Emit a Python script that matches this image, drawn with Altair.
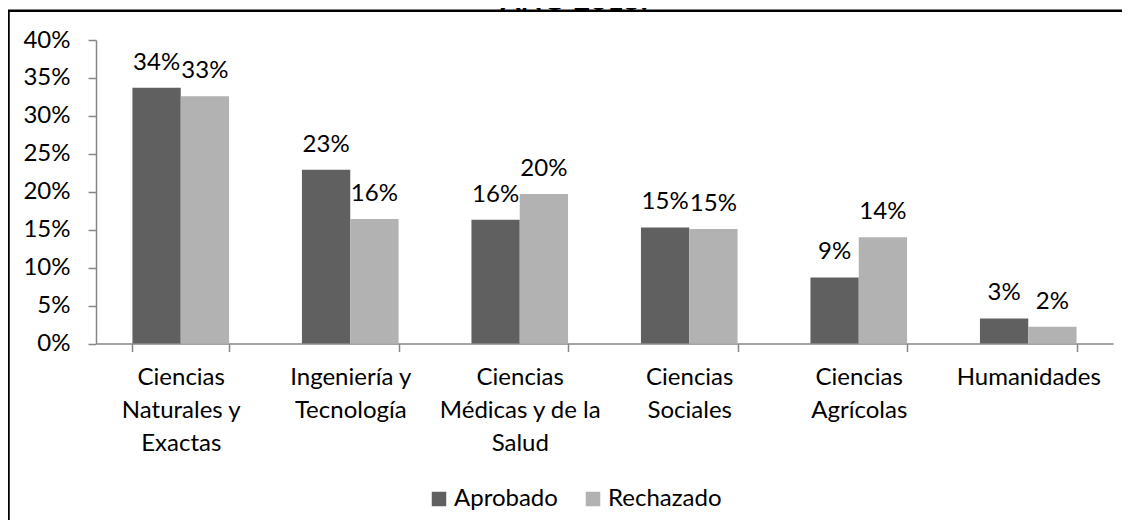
import altair as alt
import pandas as pd

# ---- data ----
categorias = [
    "Ciencias|Naturales y|Exactas",
    "Ingeniería y|Tecnología",
    "Ciencias|Médicas y de la|Salud",
    "Ciencias|Sociales",
    "Ciencias|Agrícolas",
    "Humanidades",
]
aprobado = [0.337, 0.229, 0.163, 0.153, 0.087, 0.033]
rechazado = [0.326, 0.164, 0.197, 0.151, 0.140, 0.022]
series = ["Aprobado", "Rechazado"]
colores = ["#606060", "#b2b2b2"]
y_ticks = [0.0, 0.05, 0.10, 0.15, 0.20, 0.25, 0.30, 0.35, 0.40]
titulo = "AÑO 2015."

rows = []
for c, a, r in zip(categorias, aprobado, rechazado):
    rows.append({"categoria": c, "serie": series[0], "valor": a})
    rows.append({"categoria": c, "serie": series[1], "valor": r})
df = pd.DataFrame(rows)
dummy = pd.DataFrame({"k": [0]})

FONT = "Lato"
FS = 24
W, H = 1017, 303.5
AXC = "#868686"

base = alt.Chart(df).encode(
    x=alt.X(
        "categoria:N",
        sort=categorias,
        scale=alt.Scale(paddingInner=0.43, paddingOuter=0.215),
        axis=alt.Axis(
            title=None,
            labelExpr="split(datum.label, '|')",
            labelAngle=0,
            labelAlign="center",
            labelBaseline="top",
            tickBand="extent",
            tickSize=8,
            labelPadding=14,
            labelLineHeight=33,
            labelLimit=0,
            labelFont=FONT,
            labelFontSize=FS,
            labelColor="black",
            domainColor=AXC,
            tickColor=AXC,
            domainWidth=1.5,
            tickWidth=1.5,
        ),
    ),
    xOffset=alt.XOffset(
        "serie:N", sort=series, scale=alt.Scale(paddingInner=0, paddingOuter=0)
    ),
    y=alt.Y(
        "valor:Q",
        scale=alt.Scale(domain=[0, 0.4], nice=False),
        axis=alt.Axis(
            title=None,
            values=y_ticks,
            format=".0%",
            grid=False,
            tickSize=8,
            labelPadding=18,
            labelFont=FONT,
            labelFontSize=FS,
            labelColor="black",
            domainColor=AXC,
            tickColor=AXC,
            domainWidth=1.5,
            tickWidth=1.5,
        ),
    ),
)

bars = base.mark_bar().encode(
    color=alt.Color(
        "serie:N",
        sort=series,
        scale=alt.Scale(domain=series, range=colores),
        legend=alt.Legend(
            title=None,
            orient="none",
            legendX=331,
            legendY=447,
            direction="horizontal",
            symbolType="square",
            symbolSize=210,
            symbolStrokeWidth=0,
            labelFont=FONT,
            labelFontSize=FS,
            labelColor="black",
            columnPadding=23,
            labelOffset=3,
            padding=0,
        ),
    )
)

labels = base.mark_text(
    baseline="alphabetic", dy=-18, font=FONT, fontSize=FS, color="black"
).encode(text=alt.Text("valor:Q", format=".0%"))

frame = alt.Chart(dummy).mark_rect(
    fill=None, fillOpacity=0, stroke="black", strokeWidth=2.5
).encode(
    x=alt.value(-87.5), x2=alt.value(1400), y=alt.value(-29.3), y2=alt.value(700)
)
title_mark = alt.Chart(dummy).mark_text(
    text=titulo, font=FONT, fontSize=29, fontWeight="bold", baseline="alphabetic",
    color="black", align="center"
).encode(x=alt.value(478), y=alt.value(-30.5))

chart = (
    alt.layer(bars, labels, frame, title_mark)
    .properties(
        width=W,
        height=H,
        autosize=alt.AutoSizeParams(type="none"),
        padding={"left": 88, "top": 32, "right": 9, "bottom": 176},
        background="white",
    )
    .configure_view(stroke=None)
)

chart.save("out.html", embed_options={"renderer": "svg", "actions": False})
